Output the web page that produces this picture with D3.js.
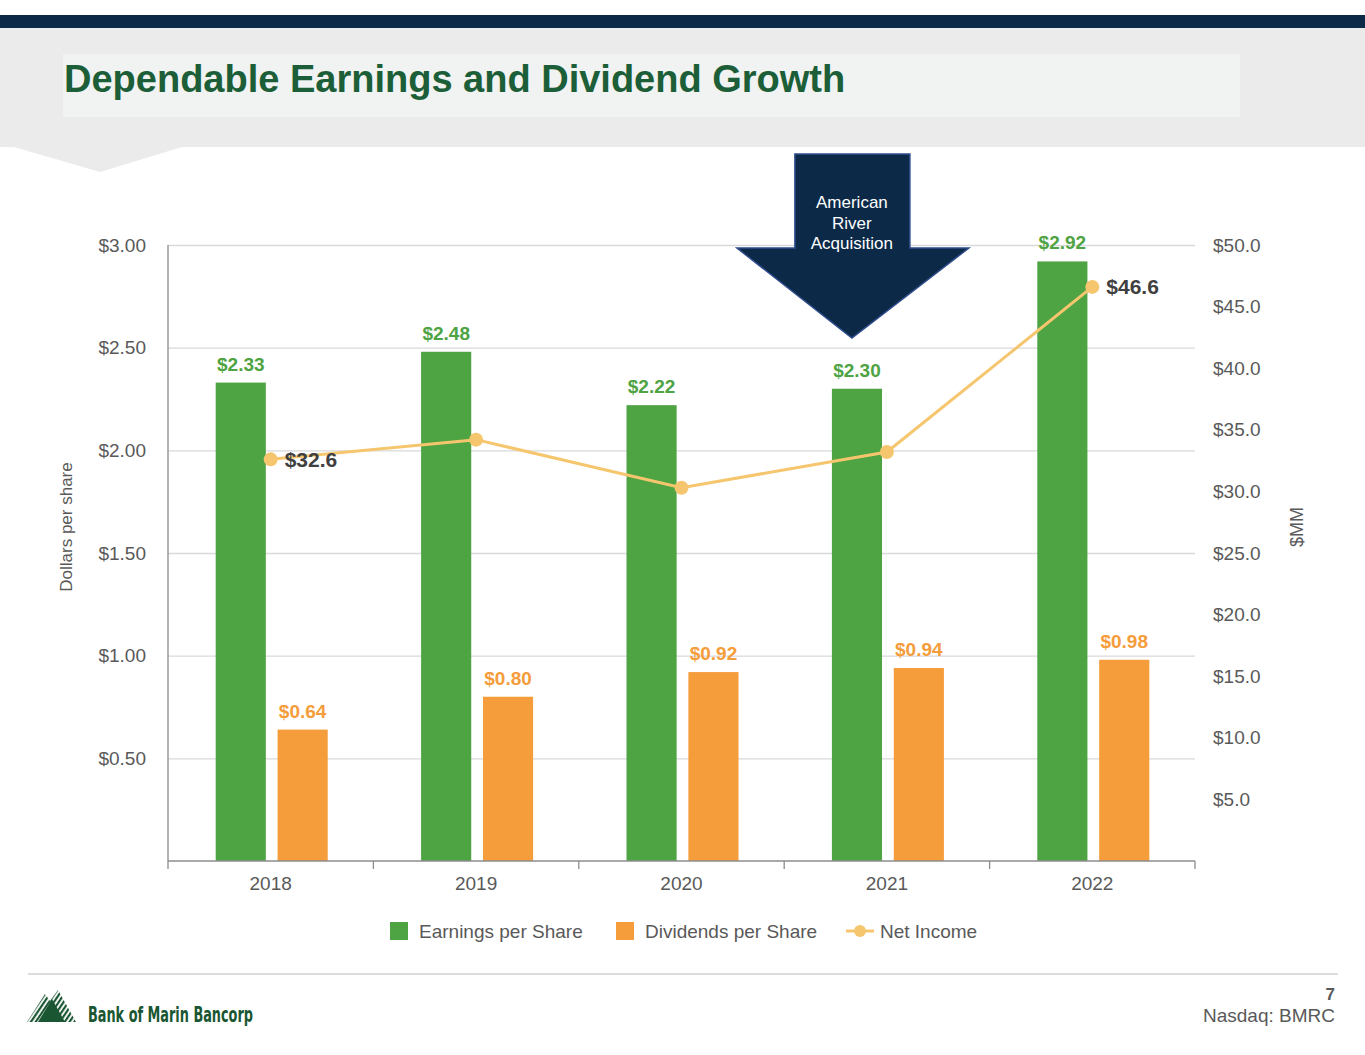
<!DOCTYPE html>
<html>
<head>
<meta charset="utf-8">
<title>Dependable Earnings and Dividend Growth</title>
<script src="https://cdn.jsdelivr.net/npm/d3@7"></script>
<style>
  body { margin: 0; background: #ffffff; }
  svg { display: block; font-family: "Liberation Sans", Arial, sans-serif; }
  .grid line { stroke: #d9d9d9; stroke-width: 1.3; }
  .grid path { display: none; }
  .tick-label { fill: #595959; font-size: 19px; }
</style>
</head>
<body>
<div id="chart"></div>
<script>
// chart data
var years = ["2018", "2019", "2020", "2021", "2022"];
var eps = [2.33, 2.48, 2.22, 2.30, 2.92];          // Earnings per Share
var dps = [0.64, 0.80, 0.92, 0.94, 0.98];          // Dividends per Share
var netIncome = [32.6, 34.2, 30.3, 33.2, 46.6];    // Net Income, $MM
var leftTicks = [0.5, 1.0, 1.5, 2.0, 2.5, 3.0];
var rightTicks = [5, 10, 15, 20, 25, 30, 35, 40, 45, 50];
var seriesNames = ["Earnings per Share", "Dividends per Share", "Net Income"];
var labelledPoints = ["2018", "2022"];

var width = 1365,
    height = 1055;

var green = "#4ea343",
    orange = "#f59c3b",
    lineColor = "#f6c66e",
    navy = "#0c2a48",
    textGray = "#595959";

var svg = d3.select("#chart")
  .append("svg")
  .attr("width", width)
  .attr("height", height);

// ---- slide header ----
svg.append("rect").attr("x", 0).attr("y", 15).attr("width", width).attr("height", 13).attr("fill", navy);
svg.append("rect").attr("x", 0).attr("y", 28).attr("width", width).attr("height", 119).attr("fill", "#ebebeb");
svg.append("path").attr("d", "M14,147 L100,172 L182,147 Z").attr("fill", "#ebebeb");
svg.append("rect").attr("x", 63).attr("y", 54).attr("width", 1177).attr("height", 63).attr("fill", "#f1f2f2");
svg.append("text")
   .attr("x", 64)
   .attr("y", 92)
   .style("font-size", "38px")
   .style("font-weight", "bold")
   .attr("fill", "#1b5e37")
   .text("Dependable Earnings and Dividend Growth");

// ---- scales ----
var plotLeft = 168, plotRight = 1195, plotTop = 245, plotBottom = 861;

var x0 = d3.scaleBand()
  .domain(years)
  .range([plotLeft, plotRight])
  .padding(0);

var x1 = d3.scaleBand()
  .domain(["eps", "dps"])
  .range([-56, 56])
  .paddingInner(0.19);

var yLeft = d3.scaleLinear().domain([0, 3]).range([plotBottom, plotTop]);
var yRight = d3.scaleLinear().domain([0, 50]).range([plotBottom, plotTop]);

// gridlines
svg.append("g")
   .attr("class", "grid")
   .attr("transform", "translate(" + plotLeft + ",0)")
   .call(d3.axisLeft(yLeft).tickValues(leftTicks).tickSize(-(plotRight - plotLeft)).tickFormat(""));

// left axis line
svg.append("line")
   .attr("x1", plotLeft).attr("x2", plotLeft)
   .attr("y1", plotTop).attr("y2", plotBottom)
   .attr("stroke", "#8c8c8c").attr("stroke-width", 1.3);

// left tick labels
svg.append("g").selectAll("text")
   .data(leftTicks)
   .enter()
   .append("text")
   .attr("class", "tick-label")
   .attr("x", 146)
   .attr("y", function(d) { return yLeft(d); })
   .attr("dy", "0.35em")
   .attr("text-anchor", "end")
   .text(function(d) { return "$" + d3.format(".2f")(d); });

// right tick labels
svg.append("g").selectAll("text")
   .data(rightTicks)
   .enter()
   .append("text")
   .attr("class", "tick-label")
   .attr("x", 1213)
   .attr("y", function(d) { return yRight(d); })
   .attr("dy", "0.35em")
   .text(function(d) { return "$" + d3.format(".1f")(d); });

// axis titles
svg.append("text")
   .attr("transform", "translate(72,527) rotate(-90)")
   .attr("text-anchor", "middle")
   .style("font-size", "17px")
   .attr("fill", textGray)
   .text("Dollars per share");

svg.append("text")
   .attr("transform", "translate(1303,527) rotate(-90)")
   .attr("text-anchor", "middle")
   .style("font-size", "18px")
   .attr("fill", textGray)
   .text("$MM");

// ---- bars ----
var rows = years.map(function(y, i) {
  return { year: y, eps: eps[i], dps: dps[i], ni: netIncome[i] };
});

var group = svg.append("g").selectAll("g")
  .data(rows)
  .enter()
  .append("g")
  .attr("transform", function(d) { return "translate(" + (x0(d.year) + x0.bandwidth() / 2 + 1) + ",0)"; });

group.append("rect")
  .attr("x", x1("eps"))
  .attr("width", x1.bandwidth())
  .attr("y", function(d) { return yLeft(d.eps); })
  .attr("height", function(d) { return yLeft(0) - yLeft(d.eps); })
  .attr("fill", green);

group.append("rect")
  .attr("x", x1("dps"))
  .attr("width", x1.bandwidth())
  .attr("y", function(d) { return yLeft(d.dps); })
  .attr("height", function(d) { return yLeft(0) - yLeft(d.dps); })
  .attr("fill", orange);

group.append("text")
  .attr("x", x1("eps") + x1.bandwidth() / 2)
  .attr("y", function(d) { return yLeft(d.eps) - 12; })
  .attr("text-anchor", "middle")
  .style("font-size", "19px")
  .style("font-weight", "bold")
  .attr("fill", green)
  .text(function(d) { return "$" + d3.format(".2f")(d.eps); });

group.append("text")
  .attr("x", x1("dps") + x1.bandwidth() / 2)
  .attr("y", function(d) { return yLeft(d.dps) - 12; })
  .attr("text-anchor", "middle")
  .style("font-size", "19px")
  .style("font-weight", "bold")
  .attr("fill", orange)
  .text(function(d) { return "$" + d3.format(".2f")(d.dps); });

// bottom axis
var xAxis = svg.append("g")
  .attr("transform", "translate(0," + plotBottom + ")");
xAxis.append("line")
  .attr("x1", plotLeft).attr("x2", plotRight)
  .attr("stroke", "#8c8c8c").attr("stroke-width", 1.3);
xAxis.selectAll(".tk")
  .data(years.concat(["end"]))
  .enter()
  .append("line")
  .attr("x1", function(d) { return d === "end" ? plotRight : x0(d); })
  .attr("x2", function(d) { return d === "end" ? plotRight : x0(d); })
  .attr("y1", 0).attr("y2", 8)
  .attr("stroke", "#8c8c8c").attr("stroke-width", 1.3);
xAxis.selectAll(".yr")
  .data(years)
  .enter()
  .append("text")
  .attr("class", "tick-label")
  .attr("x", function(d) { return x0(d) + x0.bandwidth() / 2; })
  .attr("y", 29)
  .attr("text-anchor", "middle")
  .text(function(d) { return d; });

// ---- net income line ----
var line = d3.line()
  .x(function(d) { return x0(d.year) + x0.bandwidth() / 2; })
  .y(function(d) { return yRight(d.ni); });

svg.append("path")
   .datum(rows)
   .attr("d", line)
   .attr("fill", "none")
   .attr("stroke", lineColor)
   .attr("stroke-width", 3);

svg.append("g").selectAll("circle")
   .data(rows)
   .enter()
   .append("circle")
   .attr("cx", function(d) { return x0(d.year) + x0.bandwidth() / 2; })
   .attr("cy", function(d) { return yRight(d.ni); })
   .attr("r", 7)
   .attr("fill", lineColor);

svg.append("g").selectAll("text")
   .data(rows.filter(function(d) { return labelledPoints.indexOf(d.year) >= 0; }))
   .enter()
   .append("text")
   .attr("x", function(d) { return x0(d.year) + x0.bandwidth() / 2 + 14; })
   .attr("y", function(d) { return yRight(d.ni); })
   .attr("dy", "0.36em")
   .style("font-size", "21px")
   .style("font-weight", "bold")
   .attr("fill", "#404040")
   .text(function(d) { return "$" + d3.format(".1f")(d.ni); });

// ---- acquisition callout arrow ----
var arrowX = x0("2021") + x0.bandwidth() / 2 - 35;
svg.append("path")
   .attr("d", "M" + (arrowX - 57) + ",154 L" + (arrowX + 58) + ",154 L" + (arrowX + 58) + ",248 L" +
        (arrowX + 117) + ",248 L" + arrowX + ",338 L" + (arrowX - 115) + ",248 L" + (arrowX - 57) + ",248 Z")
   .attr("fill", navy)
   .attr("stroke", "#2f4c8c")
   .attr("stroke-width", 1.5);

svg.append("text")
   .attr("text-anchor", "middle")
   .style("font-size", "17px")
   .attr("fill", "#ffffff")
   .selectAll("tspan")
   .data(["American", "River", "Acquisition"])
   .enter()
   .append("tspan")
   .attr("x", arrowX)
   .attr("y", function(d, i) { return 208 + i * 20.5; })
   .text(function(d) { return d; });

// ---- legend ----
var legendX = [390, 616, 846];
var legendTextX = [419, 645, 880];
var legend = svg.append("g");
seriesNames.forEach(function(name, i) {
  if (i < 2) {
    legend.append("rect")
      .attr("x", legendX[i]).attr("y", 922)
      .attr("width", 18).attr("height", 18)
      .attr("fill", i === 0 ? green : orange);
  } else {
    legend.append("line")
      .attr("x1", legendX[i]).attr("x2", legendX[i] + 28)
      .attr("y1", 931).attr("y2", 931)
      .attr("stroke", lineColor).attr("stroke-width", 3);
    legend.append("circle")
      .attr("cx", legendX[i] + 14).attr("cy", 931).attr("r", 6)
      .attr("fill", lineColor);
  }
  legend.append("text")
    .attr("x", legendTextX[i]).attr("y", 931)
    .attr("dy", "0.35em")
    .style("font-size", "19px")
    .attr("fill", textGray)
    .text(name);
});

// ---- footer ----
svg.append("line")
   .attr("x1", 28).attr("x2", 1338)
   .attr("y1", 974).attr("y2", 974)
   .attr("stroke", "#d0d0d0").attr("stroke-width", 1.3);

var defs = svg.append("defs");
defs.append("pattern")
    .attr("id", "stripes")
    .attr("patternUnits", "userSpaceOnUse")
    .attr("width", 4).attr("height", 4)
    .attr("patternTransform", "rotate(34)")
  .append("rect")
    .attr("width", 2.2).attr("height", 4)
    .attr("fill", "#1a5632");

svg.append("path")
   .attr("d", "M27,1022 L45,994 L50,1001 L58,990 L76,1022 Z")
   .attr("fill", "url(#stripes)");
svg.append("path")
   .attr("d", "M38,1022 L52,999 L65,1022 Z")
   .attr("fill", "#1a5632");

svg.append("text")
   .attr("x", 88)
   .attr("y", 1022)
   .attr("textLength", 165)
   .attr("lengthAdjust", "spacingAndGlyphs")
   .style("font-family", "'DejaVu Sans Condensed', 'Liberation Sans Narrow', sans-serif")
   .style("font-size", "22px")
   .style("font-weight", "bold")
   .attr("fill", "#1a5632")
   .text("Bank of Marin Bancorp");

svg.append("text")
   .attr("x", 1335).attr("y", 1000)
   .attr("text-anchor", "end")
   .style("font-size", "17px")
   .style("font-weight", "bold")
   .attr("fill", textGray)
   .text("7");

svg.append("text")
   .attr("x", 1335).attr("y", 1022)
   .attr("text-anchor", "end")
   .style("font-size", "19px")
   .attr("fill", textGray)
   .text("Nasdaq: BMRC");
</script>
</body>
</html>
